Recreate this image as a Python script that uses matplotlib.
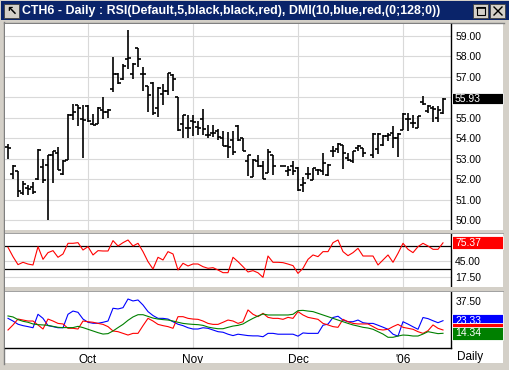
import numpy as np
import matplotlib
matplotlib.use("Agg")
import matplotlib.pyplot as plt
from matplotlib.patches import Rectangle
from matplotlib.lines import Line2D

nan = np.nan

# daily bars, one slot per trading day (Sep 9 2005 .. Jan 13 2006)
opens = [53.58, 52.27, 52.38, 51.32, 51.55, 51.61, 52.00, 52.58, 52.71, 53.20,
         53.28, 52.25, 52.95, 55.13, 55.65, 54.92, 55.60, 54.70, 54.70, 55.37,
         55.29, 56.43, 57.12, 56.91, 57.89, 57.12, 58.40, 57.12, 56.55, 56.71,
         55.49, 56.17, 56.30, 57.10, 56.04, 54.72, 54.50, 54.83, 54.54, 54.95,
         54.18, 54.26, 54.34, 54.02, 53.61, 53.93, 54.60, 54.02, 52.90, 52.10,
         52.90, 52.63, 52.30, 53.20, nan, 52.64, 52.38, 52.63, 52.55, 51.73,
         52.25, 51.98, 52.43, 52.42, 52.22, 53.36, 53.45, 53.66, 53.04, 52.87,
         53.53, 53.53, nan, 53.17, 53.45, 53.66, 54.10, 54.26, 54.02, 54.38,
         54.92, 54.75, 54.51, 55.76, 55.32, 55.49, 55.00, 55.24]
highs = [53.72, 52.68, 52.38, 51.92, 51.73, 51.84, 53.48, 52.99, 53.20, 53.40,
         53.56, 52.95, 55.20, 55.68, 55.65, 55.65, 55.62, 55.20, 55.52, 56.04,
         55.45, 57.99, 57.20, 57.61, 59.28, 57.69, 58.40, 57.48, 56.55, 56.76,
         56.50, 56.63, 57.20, 57.12, 56.04, 55.13, 55.13, 55.13, 54.83, 55.41,
         54.67, 54.67, 54.43, 54.34, 54.31, 54.34, 54.64, 54.02, 53.20, 53.00,
         53.20, 52.87, 53.49, 53.20, nan, 52.64, 52.62, 52.87, 52.58, 52.09,
         52.58, 52.55, 52.50, 53.28, 52.74, 53.61, 53.76, 53.66, 53.28, 53.39,
         53.66, 53.53, nan, 54.26, 54.26, 54.18, 54.26, 54.59, 54.26, 55.24,
         55.24, 55.16, 55.08, 56.06, 55.65, 55.57, 55.57, 55.98]
lows = [52.99, 52.02, 51.11, 51.24, 51.21, 51.29, 51.96, 51.81, 49.98, 51.81,
        52.43, 52.19, 52.92, 54.87, 54.60, 53.04, 54.80, 54.64, 54.70, 54.96,
        55.00, 56.25, 56.66, 56.83, 57.40, 56.91, 57.48, 56.30, 55.29, 55.13,
        55.03, 55.65, 56.14, 56.30, 54.34, 54.02, 54.02, 54.10, 54.18, 54.18,
        54.02, 54.05, 53.89, 53.61, 53.04, 53.20, 53.85, 53.40, 52.14, 52.09,
        52.60, 52.02, 52.30, 52.22, nan, 52.64, 52.13, 52.19, 51.40, 51.35,
        52.02, 51.97, 52.22, 52.22, 52.17, 53.07, 53.27, 52.50, 52.87, 52.79,
        53.36, 53.07, nan, 53.04, 53.23, 53.61, 53.85, 53.53, 53.07, 54.38,
        54.34, 54.51, 54.51, 55.65, 55.24, 54.80, 54.78, 55.19]
closes = [53.53, 52.64, 51.40, 51.76, 51.53, 51.35, 53.44, 51.97, 53.17, 53.36,
          52.46, 52.90, 55.16, 55.29, 55.49, 54.87, 54.83, 54.64, 55.49, 55.29,
          55.39, 57.12, 56.71, 57.53, 57.94, 57.61, 57.89, 57.15, 56.11, 55.24,
          56.47, 56.33, 57.17, 56.92, 54.38, 55.13, 54.50, 54.78, 54.50, 54.43,
          54.18, 54.26, 54.05, 53.64, 53.56, 53.31, 53.90, 53.40, 53.20, 52.95,
          52.63, 52.02, 53.33, 52.63, nan, 52.64, 52.43, 52.38, 51.48, 51.82,
          52.25, 52.53, 52.43, 52.79, 52.70, 53.40, 53.70, 53.28, 52.95, 53.36,
          53.61, 53.28, nan, 54.21, 54.20, 54.10, 54.18, 54.02, 54.21, 55.19,
          54.95, 54.75, 55.08, 55.68, 55.60, 55.45, 55.40, 55.93]

rsi = [67.7, 51.7, 38.0, 42.0, 39.0, 37.4, 68.9, 47.1, 58.6, 62.0,
       50.6, 56.3, 74.6, 74.6, 75.7, 63.1, 68.9, 54.6, 62.0, 61.4,
       61.4, 79.2, 70.0, 75.7, 80.3, 70.0, 74.6, 60.3, 43.1, 30.5,
       50.6, 46.0, 60.3, 56.3, 28.8, 40.3, 35.7, 39.1, 39.1, 34.5,
       31.7, 32.8, 28.8, 24.2, 24.2, 50.6, 43.1, 34.5, 25.4, 27.7,
       24.0, 16.2, 52.8, 42.0, 42.0, 41.4, 39.0, 36.3, 23.0, 31.7,
       47.1, 54.6, 51.7, 60.3, 60.3, 75.7, 80.3, 60.3, 53.4, 58.6,
       66.0, 52.8, 52.8, 52.8, 37.4, 46.0, 54.6, 42.0, 57.4, 74.6,
       64.3, 58.6, 68.9, 74.6, 70.0, 64.3, 64.3, 75.37]

dmi_plus = [25.0, 23.1, 20.8, 19.8, 19.1, 18.3, 27.9, 25.0, 19.8, 19.1,
            18.3, 18.3, 27.9, 30.2, 29.3, 24.5, 22.2, 21.5, 21.5, 22.2,
            23.1, 32.2, 31.7, 32.6, 38.8, 37.4, 38.1, 34.5, 29.8, 27.0,
            25.0, 25.0, 24.5, 22.6, 20.8, 19.8, 18.3, 17.4, 17.4, 18.3,
            17.9, 16.7, 15.5, 15.1, 13.7, 12.7, 13.7, 13.2, 12.7, 12.5,
            12.5, 11.9, 14.3, 14.3, 13.7, 13.7, 13.7, 13.7, 12.3, 14.6,
            14.3, 14.3, 14.3, 20.1, 20.9, 25.6, 26.5, 23.8, 22.6, 22.6,
            23.8, 21.9, 21.4, 21.4, 20.1, 18.7, 17.2, 13.7, 12.3, 22.6,
            20.9, 19.0, 17.2, 25.6, 24.8, 23.3, 21.9, 23.33]
dmi_minus = [16.7, 20.3, 24.5, 23.8, 23.1, 23.1, 20.3, 17.4, 24.5, 23.1,
             21.4, 21.0, 17.9, 17.9, 17.4, 23.1, 22.6, 22.2, 21.4, 20.7,
             19.1, 16.0, 15.5, 14.3, 13.1, 14.3, 14.3, 19.8, 25.0, 23.1,
             20.7, 19.8, 19.1, 17.9, 26.2, 26.2, 25.0, 24.5, 24.3, 23.1,
             21.4, 20.7, 20.7, 22.2, 23.8, 23.1, 21.4, 22.6, 31.0, 27.9,
             26.2, 28.6, 25.7, 25.0, 25.0, 24.3, 25.7, 25.0, 29.8, 27.4,
             25.7, 25.0, 24.3, 21.4, 20.3, 19.1, 18.6, 24.3, 22.6, 21.4,
             21.0, 21.0, 21.0, 19.1, 17.2, 16.7, 17.2, 19.1, 20.7, 18.6,
             17.9, 17.2, 15.5, 14.3, 16.2, 20.3, 17.9, 16.7]
adx = [26.7, 26.0, 24.1, 22.9, 22.2, 21.0, 20.5, 20.3, 20.0, 19.3,
       18.6, 18.4, 18.4, 18.4, 19.3, 18.4, 17.2, 16.0, 14.8, 13.8,
       14.1, 16.0, 18.4, 20.7, 23.6, 26.0, 27.6, 27.6, 26.4, 25.2,
       24.5, 24.1, 23.8, 23.1, 22.2, 21.4, 21.0, 20.7, 20.5, 20.0,
       18.8, 18.1, 17.6, 17.6, 18.6, 19.5, 20.0, 21.0, 23.1, 25.0,
       26.7, 28.1, 27.4, 27.4, 27.4, 27.4, 27.4, 27.9, 30.5, 30.7,
       30.2, 29.8, 28.6, 27.4, 26.2, 25.0, 23.8, 22.6, 21.4, 20.3,
       19.5, 18.6, 18.1, 17.2, 15.5, 13.8, 11.5, 11.5, 12.4, 13.1,
       12.9, 12.4, 12.4, 13.8, 15.5, 14.8, 14.1, 14.34]

month_pos = [16, 37, 58, 79]
month_labels = ["Oct", "Nov", "Dec", "'06"]
price_ticks = [50, 51, 52, 53, 54, 55, 56, 57, 58, 59]
rsi_ticks = [17.5, 45]
rsi_levels = [30, 70]
dmi_ticks = [37.5]

title = "CTH6 - Daily : RSI(Default,5,black,black,red), DMI(10,blue,red,(0;128;0))"

W, H = 510, 370
FONT = "Liberation Sans"
GRID = "#D9D9D9"
plt.rcParams["font.family"] = [FONT, "DejaVu Sans"]

fig = plt.figure(figsize=(W / 100, H / 100), dpi=100, facecolor="#D4D0C8")


def rect(x0, y0, x1, y1, fc, ec="none", lw=0, z=1):
    fig.add_artist(Rectangle((x0 / W, 1 - y1 / H), (x1 - x0) / W, (y1 - y0) / H,
                             transform=fig.transFigure, fc=fc, ec=ec, lw=lw, zorder=z))


def line(xs, ys, color, lw=0.75, z=1):
    fig.add_artist(Line2D([x / W for x in xs], [1 - y / H for y in ys],
                          transform=fig.transFigure, color=color, lw=lw, zorder=z))


def panel(y0, y1):
    return fig.add_axes([5 / W, 1 - y1 / H, 446 / W, (y1 - y0) / H])


# window chrome
rect(1, 1, 509, 20, "#0A246A", z=-3)
rect(5, 23, 503, 363, "white", z=-3)
line([4, 4], [22, 364], "#808080", lw=1, z=-2)
line([4, 504], [22.5, 22.5], "#808080", lw=1, z=-2)
fig.text(22 / W, 1 - 11 / H, title, color="white", fontsize=8.9, fontweight="bold",
         va="center", ha="left")
for bx0 in (4, 473, 490):
    rect(bx0, 4, bx0 + 15, 18, "#D4D0C8", ec="#404040", lw=0.6, z=2)
fig.text(11.5 / W, 1 - 11 / H, "\u2196", fontsize=9, fontweight="bold", va="center",
         ha="center", family="DejaVu Sans")
rect(477, 7, 485, 15, "none", ec="black", lw=0.8, z=3)
line([477, 485], [7.6, 7.6], "black", lw=1.2, z=3)
line([494, 502], [7, 15], "black", lw=1.0, z=3)
line([494, 502], [15, 7], "black", lw=1.0, z=3)

idx = np.arange(len(closes))
ax_p = panel(24, 230)
ax_r = panel(233, 287)
ax_d = panel(291, 348)

ax_p.set_ylim(49.51, 59.59)
ax_r.set_ylim(-0.4, 92.3)
ax_d.set_ylim(3.86, 44.5)

for ax in (ax_p, ax_r, ax_d):
    ax.set_xlim(-0.6, 88.6)
    ax.set_facecolor("white")
    for side in ("top", "left", "bottom"):
        ax.spines[side].set_visible(False)
    ax.spines["right"].set_color("black")
    ax.spines["right"].set_linewidth(1.0)
    ax.yaxis.tick_right()
    ax.tick_params(axis="y", length=0, pad=3, labelsize=7.5, labelcolor="black")
    ax.tick_params(axis="x", length=0)
    ax.set_xticks(month_pos)
    ax.set_xticklabels([])
    for m in month_pos:
        ax.axvline(m, color=GRID, lw=0.8, zorder=0)

# price bars
ax_p.set_yticks(price_ticks)
ax_p.set_yticklabels([f"{v:.2f}" for v in price_ticks])
for v in price_ticks:
    ax_p.axhline(v, color=GRID, lw=0.8, zorder=0)
o = np.array(opens)
hi = np.array(highs)
lo = np.array(lows)
c = np.array(closes)
ok = ~np.isnan(c)
ax_p.vlines(idx[ok], lo[ok], hi[ok], color="black", lw=1.2, zorder=3)
ax_p.hlines(o[ok], idx[ok] - 0.55, idx[ok], color="black", lw=1.2, zorder=3)
ax_p.hlines(c[ok], idx[ok], idx[ok] + 0.55, color="black", lw=1.2, zorder=3)

# RSI
ax_r.set_yticks(rsi_ticks)
ax_r.set_yticklabels([f"{v:.2f}" for v in rsi_ticks])
for v in rsi_ticks:
    ax_r.axhline(v, color=GRID, lw=0.8, zorder=0)
for v in rsi_levels:
    ax_r.axhline(v, color="black", lw=0.9, zorder=1)
ax_r.plot(idx, rsi, color="red", lw=0.8, zorder=3)

# DMI
ax_d.set_yticks(dmi_ticks)
ax_d.set_yticklabels([f"{v:.2f}" for v in dmi_ticks])
ax_d.spines["bottom"].set_visible(True)
ax_d.spines["bottom"].set_color("black")
ax_d.spines["bottom"].set_linewidth(1.0)
ax_d.plot(idx, dmi_plus, color="blue", lw=0.8, zorder=3)
ax_d.plot(idx, dmi_minus, color="red", lw=0.8, zorder=3)
ax_d.plot(idx, adx, color="green", lw=0.8, zorder=3)
ax_d.set_xticklabels(month_labels, fontsize=8.5)
ax_d.tick_params(axis="x", pad=4)
fig.text(470 / W, 1 - 357 / H, "Daily", fontsize=8.5, ha="center", va="center")

# gray separators between panels
for y0, y1 in ((230, 233), (287, 291)):
    rect(5, y0, 503, y1, "#D4D0C8", z=2)
    line([5, 503], [y1 - 0.5, y1 - 0.5], "#A0A0A0", lw=0.7, z=2)


def value_box(ax, val, txt, fc, h):
    y = H - ax.transData.transform((0, val))[1]
    rect(452, y - h / 2, 503, y + h / 2, fc, ec="white", lw=0.6, z=4)
    if txt:
        fig.text(455 / W, 1 - y / H, txt, color="white", fontsize=7.5,
                 va="center", ha="left", zorder=5)


value_box(ax_p, closes[-1], f"{closes[-1]:.2f}", "black", 11)
value_box(ax_r, rsi[-1], f"{rsi[-1]:.2f}", "red", 13)
value_box(ax_d, dmi_plus[-1], f"{dmi_plus[-1]:.2f}", "blue", 13)
value_box(ax_d, dmi_minus[-1], "", "red", 13)
value_box(ax_d, adx[-1], f"{adx[-1]:.2f}", "green", 13)

fig.savefig("out.png", dpi=100, facecolor=fig.get_facecolor())
